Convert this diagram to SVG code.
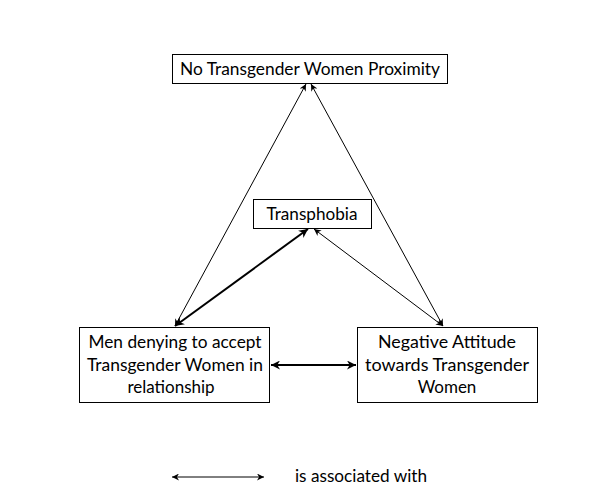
<svg xmlns="http://www.w3.org/2000/svg" width="604" height="501" viewBox="0 0 604 501">
<style>
.box{fill:#fff;stroke:#000;stroke-width:1}
.t{font-family:Lato,"Liberation Sans",sans-serif;font-size:17px;fill:#000;text-anchor:middle}
.thin{stroke:#000;stroke-width:1;fill:none;marker-start:url(#a);marker-end:url(#a)}
.thick{stroke:#000;stroke-width:2;fill:none;marker-start:url(#b);marker-end:url(#b)}
</style>
<defs>
<marker id="a" viewBox="0 0 10 10" refX="10" refY="5" markerWidth="8" markerHeight="7" markerUnits="userSpaceOnUse" orient="auto-start-reverse">
<path d="M0,0 L10,5 L0,10 L3,5 z" fill="#000"/>
</marker>
<marker id="b" viewBox="0 0 10 10" refX="10" refY="5" markerWidth="10" markerHeight="9" markerUnits="userSpaceOnUse" orient="auto-start-reverse">
<path d="M0,0 L10,5 L0,10 L3,5 z" fill="#000"/>
</marker>
</defs>
<rect width="604" height="501" fill="#fff"/>
<g id="connectors">
<line class="thin" x1="175" y1="326" x2="306" y2="84"/>
<line class="thin" x1="443" y1="326" x2="311" y2="84"/>
<line class="thick" x1="175" y1="326" x2="308" y2="229"/>
<line class="thin" x1="443" y1="326" x2="314" y2="229"/>
<line class="thick" x1="271" y1="365" x2="356" y2="365"/>
</g>
<g id="node-proximity">
<rect class="box" x="172.5" y="54.5" width="275" height="29"/>
<text class="t" x="310" y="75" textLength="260" lengthAdjust="spacingAndGlyphs">No Transgender Women Proximity</text>
</g>
<g id="node-transphobia">
<rect class="box" x="253.5" y="199.5" width="118" height="29"/>
<text class="t" x="312" y="220" textLength="91" lengthAdjust="spacingAndGlyphs">Transphobia</text>
</g>
<g id="node-men">
<rect class="box" x="79.5" y="327.5" width="190" height="75"/>
<text class="t" x="175" y="348" textLength="173" lengthAdjust="spacingAndGlyphs">Men denying to accept</text>
<text class="t" x="175" y="371" textLength="176" lengthAdjust="spacingAndGlyphs">Transgender Women in</text>
<text class="t" x="171" y="393">relationship</text>
</g>
<g id="node-attitude">
<rect class="box" x="357.5" y="327.5" width="180" height="75"/>
<text class="t" x="447" y="348" textLength="138" lengthAdjust="spacingAndGlyphs">Negative Attitude</text>
<text class="t" x="447" y="371" textLength="164" lengthAdjust="spacingAndGlyphs">towards Transgender</text>
<text class="t" x="447" y="393">Women</text>
</g>
<g id="legend">
<line class="thin" x1="172" y1="477" x2="264" y2="477"/>
<text class="t" x="361" y="482" textLength="132" lengthAdjust="spacingAndGlyphs">is associated with</text>
</g>
</svg>
